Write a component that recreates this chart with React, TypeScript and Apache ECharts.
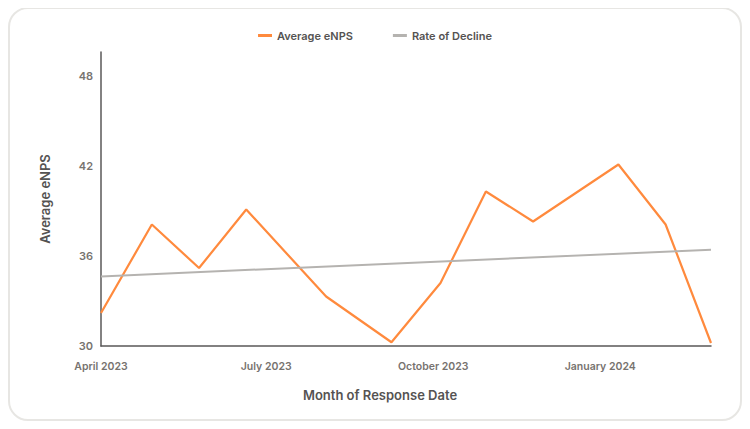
import React, { useRef, useEffect } from 'react';
import * as echarts from 'echarts';

// Average eNPS per response (dates)
const responseDates = [
    '2023-04-01', '2023-04-29', '2023-05-25', '2023-06-20',
    '2023-08-03', '2023-09-08', '2023-10-05', '2023-10-30',
    '2023-11-25', '2024-01-11', '2024-02-06', '2024-03-02'
];
const averageEnps = [32.2, 38.1, 35.2, 39.1, 33.3, 30.25, 34.2, 40.3, 38.3, 42.1, 38.1, 30.2];

// Trend line end points
const trendDates = ['2023-04-01', '2024-03-02'];
const trendValues = [34.64, 36.42];

// Quarter labels on the x axis
const quarterTicks = ['2023-04-01', '2023-07-01', '2023-10-01', '2024-01-01'];
const monthNames = ['January', 'February', 'March', 'April', 'May', 'June', 'July',
    'August', 'September', 'October', 'November', 'December'];

// dates become day numbers so a plain value axis can place them
const DAY = 24 * 3600 * 1000;
const toDay = (s: string): number => {
    const [y, m, d] = s.split('-').map(Number);
    return Math.round(Date.UTC(y, m - 1, d) / DAY);
};
const dayLabel = (v: number): string => {
    const d = new Date(v * DAY);
    return `${monthNames[d.getUTCMonth()]} ${d.getUTCFullYear()}`;
};

const FONT = 'Inter, "Noto Sans", sans-serif';

const App: React.FC = () => {
    const chartRef = useRef<HTMLDivElement>(null);

    useEffect(() => {
        if (!chartRef.current) return;
        const chart = echarts.init(chartRef.current, undefined, { renderer: 'svg' });

        chart.setOption({
            animation: false,
            textStyle: { fontFamily: FONT },
            legend: {
                top: 25,
                left: 'center',
                itemGap: 40,
                itemWidth: 14,
                itemHeight: 3,
                icon: 'rect',
                textStyle: { color: '#555352', fontSize: 11, fontWeight: 600, fontFamily: FONT },
                data: ['Average eNPS', 'Rate of Decline']
            },
            grid: { left: 101, right: 39, top: 52, bottom: 83 },
            xAxis: {
                type: 'value',
                min: toDay(responseDates[0]),
                max: toDay(responseDates[responseDates.length - 1]),
                name: 'Month of Response Date',
                nameLocation: 'middle',
                nameGap: 42,
                nameTextStyle: {
                    color: '#555352',
                    fontSize: 13,
                    fontWeight: 600,
                    fontFamily: FONT,
                    padding: [0, 52, 0, 0]
                },
                axisLine: { lineStyle: { color: '#5a5858', width: 1.5 } },
                axisTick: { show: false },
                splitLine: { show: false },
                axisLabel: {
                    customValues: quarterTicks.map(toDay),
                    margin: 15,
                    color: '#77736f',
                    fontSize: 10.5,
                    fontWeight: 600,
                    fontFamily: FONT,
                    formatter: (v: number) => dayLabel(v)
                }
            },
            yAxis: {
                type: 'value',
                min: 30,
                max: 49.6,
                interval: 6,
                name: 'Average eNPS',
                nameLocation: 'middle',
                nameGap: 50,
                nameTextStyle: { color: '#555352', fontSize: 13, fontWeight: 600, fontFamily: FONT },
                axisLine: { show: true, lineStyle: { color: '#5a5858', width: 1.5 } },
                axisTick: { show: false },
                splitLine: { show: false },
                axisLabel: {
                    showMaxLabel: false,
                    margin: 8,
                    color: '#77736f',
                    fontSize: 11,
                    fontWeight: 600,
                    fontFamily: FONT
                }
            },
            series: [
                {
                    name: 'Average eNPS',
                    type: 'line',
                    symbol: 'none',
                    color: '#ff8a3d',
                    lineStyle: { color: '#ff8a3d', width: 2.2 },
                    data: responseDates.map((d, i) => [toDay(d), averageEnps[i]])
                },
                {
                    name: 'Rate of Decline',
                    type: 'line',
                    symbol: 'none',
                    color: '#b5b3b0',
                    lineStyle: { color: '#b5b3b0', width: 2 },
                    data: trendDates.map((d, i) => [toDay(d), trendValues[i]])
                }
            ]
        });

        return () => {
            chart.dispose();
        };
    }, []);

    return (
        <div style={{
            position: 'relative',
            width: '734px',
            height: '414px',
            marginTop: '-1px',
            boxSizing: 'border-box',
            border: '2px solid #e7e6e3',
            borderRadius: '20px'
        }}>
            <div ref={chartRef} style={{
                position: 'absolute',
                left: '-10px',
                top: '-9px',
                width: '750px',
                height: '429px'
            }} />
        </div>
    );
};

export default App;
